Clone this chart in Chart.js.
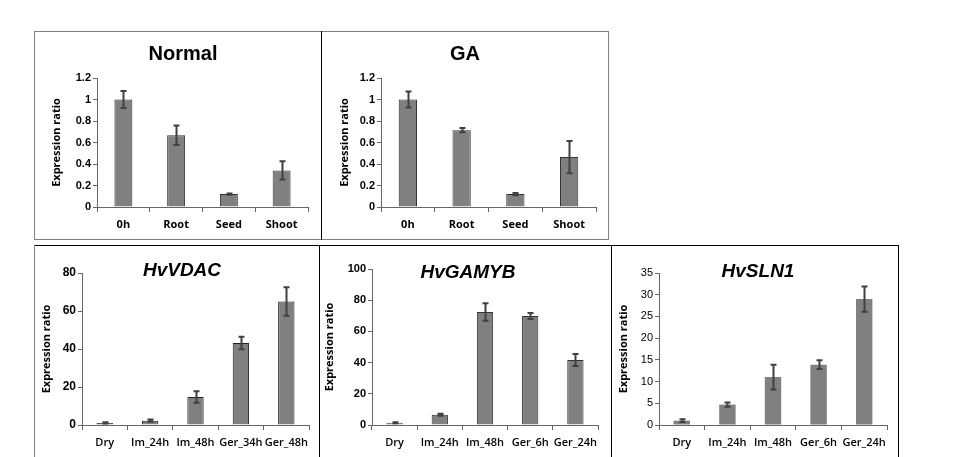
<!DOCTYPE html>
<html>
<head>
<meta charset="utf-8">
<script src="https://cdn.jsdelivr.net/npm/chart.js@4/dist/chart.umd.min.js"></script>
<style>
body { margin: 0; background: #fff; width: 961px; height: 457px; position: relative; overflow: hidden; font-family: "Liberation Sans", Arial, sans-serif; }
.panel { position: absolute; }
.line { position: absolute; }
.title { position: absolute; font-weight: bold; font-size: 20px; color: #000; transform: translate(-50%, -50%); white-space: nowrap; }
.gene { font-style: italic; font-size: 19px; }
</style>
</head>
<body>

<!-- frames -->
<div class="line" style="left:34px;top:31px;width:575px;height:1px;background:#808080"></div>
<div class="line" style="left:34px;top:239px;width:575px;height:1px;background:#808080"></div>
<div class="line" style="left:34px;top:31px;width:1px;height:209px;background:#808080"></div>
<div class="line" style="left:608px;top:31px;width:1px;height:209px;background:#808080"></div>
<div class="line" style="left:321px;top:31px;width:1px;height:209px;background:#000"></div>

<div class="line" style="left:34px;top:245px;width:865px;height:1px;background:#000"></div>
<div class="line" style="left:34px;top:245px;width:1px;height:212px;background:#808080"></div>
<div class="line" style="left:319px;top:245px;width:1px;height:212px;background:#000"></div>
<div class="line" style="left:611px;top:245px;width:1px;height:212px;background:#000"></div>
<div class="line" style="left:898px;top:245px;width:1px;height:212px;background:#000"></div>

<div class="panel" style="left:35px;top:32px;width:286px;height:207px"><canvas id="normal"></canvas></div>
<div class="panel" style="left:322px;top:32px;width:286px;height:207px"><canvas id="ga"></canvas></div>
<div class="panel" style="left:35px;top:246px;width:284px;height:211px"><canvas id="vdac"></canvas></div>
<div class="panel" style="left:320px;top:246px;width:291px;height:211px"><canvas id="gamyb"></canvas></div>
<div class="panel" style="left:612px;top:246px;width:286px;height:211px"><canvas id="sln"></canvas></div>

<div class="title" style="left:183px;top:53px">Normal</div>
<div class="title" style="left:465px;top:53px">GA</div>
<div class="title gene" style="left:182px;top:270px">HvVDAC</div>
<div class="title gene" style="left:468px;top:272px">HvGAMYB</div>
<div class="title gene" style="left:758px;top:271px">HvSLN1</div>

<script>
'use strict';

// top row: tissue samples
const tissueLabels = ['0h', 'Root', 'Seed', 'Shoot'];
const normalValues = [1.0, 0.667, 0.12, 0.34];
const normalErrors = [0.08, 0.09, 0.005, 0.085];
const gaValues = [1.0, 0.715, 0.12, 0.465];
const gaErrors = [0.075, 0.02, 0.01, 0.15];

// bottom row: time course
const vdacLabels = ['Dry', 'Im_24h', 'Im_48h', 'Ger_34h', 'Ger_48h'];
const vdacValues = [1.1, 2.3, 14.7, 43.2, 65.0];
const vdacErrors = [0.3, 0.6, 3.0, 3.3, 7.5];

const gamybLabels = ['Dry', 'Im_24h', 'Im_48h', 'Ger_6h', 'Ger_24h'];
const gamybValues = [1.5, 6.6, 72.4, 69.9, 41.7];
const gamybErrors = [0.3, 0.6, 5.6, 1.9, 3.8];

const slnLabels = ['Dry', 'Im_24h', 'Im_48h', 'Ger_6h', 'Ger_24h'];
const slnValues = [1.0, 4.7, 11.05, 13.9, 29.0];
const slnErrors = [0.3, 0.5, 2.85, 1.0, 2.9];


// draws the +/- error whiskers on top of each bar
const errorBars = {
    id: 'errorBars',
    afterDatasetsDraw(chart, args, opts) {
        const ctx = chart.ctx;
        const yScale = chart.scales.y;
        const meta = chart.getDatasetMeta(0);
        const values = chart.data.datasets[0].data;
        ctx.save();
        ctx.strokeStyle = opts.color;
        ctx.lineWidth = opts.width;
        meta.data.forEach((bar, i) => {
            const x = Math.round(bar.x) + 0.5;
            const yTop = yScale.getPixelForValue(values[i] + opts.errors[i]);
            const yBot = yScale.getPixelForValue(values[i] - opts.errors[i]);
            ctx.beginPath();
            ctx.moveTo(x, yTop);
            ctx.lineTo(x, yBot);
            ctx.moveTo(x - opts.cap, yTop);
            ctx.lineTo(x + opts.cap, yTop);
            ctx.moveTo(x - opts.cap, yBot);
            ctx.lineTo(x + opts.cap, yBot);
            ctx.stroke();
        });
        ctx.restore();
    }
};

function drawBars(id, labels, values, errors, opt) {
    const ctx = document.getElementById(id);
    return new Chart(ctx, {
        type: 'bar',
        data: {
            labels: labels,
            datasets: [{
                data: values,
                backgroundColor: '#808080',
                borderColor: opt.border,
                borderWidth: opt.borderWidth,
                barPercentage: opt.bar,
                categoryPercentage: 1
            }]
        },
        options: {
            responsive: true,
            maintainAspectRatio: false,
            animation: false,
            layout: {
                padding: {left: opt.padLeft, top: opt.padTop, right: opt.padRight, bottom: 0}
            },
            scales: {
                x: {
                    grid: {
                        offset: true,
                        drawOnChartArea: false,
                        tickLength: 5,
                        color: '#666'
                    },
                    border: {color: '#666'},
                    ticks: {
                        color: '#000',
                        padding: 6,
                        maxRotation: 0,
                        autoSkip: false,
                        font: opt.xFont
                    },
                    afterFit: s => { s.height = opt.xHeight; }
                },
                y: {
                    min: 0,
                    max: opt.max,
                    ticks: {
                        stepSize: opt.step,
                        color: '#000',
                        padding: 2,
                        font: opt.yFont,
                        callback: value => String(+value.toFixed(2))
                    },
                    grid: {
                        drawOnChartArea: false,
                        tickLength: 4,
                        color: '#666'
                    },
                    border: {color: '#666'},
                    title: {
                        display: true,
                        text: 'Expression ratio',
                        color: '#000',
                        padding: 0,
                        font: {family: '"Open Sans", "Liberation Sans", sans-serif', size: 11, weight: 'bold', lineHeight: 1.2}
                    },
                    afterFit: s => { s.width = opt.yWidth; }
                }
            },
            plugins: {
                legend: {display: false},
                tooltip: {enabled: false},
                errorBars: {errors: errors, color: '#404040', width: 2, cap: 3}
            }
        },
        plugins: [errorBars]
    });
}

const boldNum = {family: '"Liberation Sans", Arial, sans-serif', size: 11, weight: 'bold'};
const boldCat = {family: '"Open Sans", "Liberation Sans", sans-serif', size: 11, weight: 'bold'};
const plainCat = {family: '"Open Sans", "Liberation Sans", sans-serif', size: 11, weight: '600'};

drawBars('normal', tissueLabels, normalValues, normalErrors, {
    max: 1.2, step: 0.2, padLeft: 15, padTop: 46, padRight: 13,
    yWidth: 47, xHeight: 32, bar: 0.34, border: '#333', borderWidth: 1,
    yFont: boldNum, xFont: boldCat
});

drawBars('ga', tissueLabels, gaValues, gaErrors, {
    max: 1.2, step: 0.2, padLeft: 16, padTop: 46, padRight: 12,
    yWidth: 43, xHeight: 32, bar: 0.34, border: '#333', borderWidth: 1,
    yFont: boldNum, xFont: boldCat
});

drawBars('vdac', vdacLabels, vdacValues, vdacErrors, {
    max: 80, step: 20, padLeft: 5, padTop: 27, padRight: 10,
    yWidth: 42, xHeight: 32, bar: 0.36, border: '#222', borderWidth: 1,
    yFont: {family: '"Liberation Sans", Arial, sans-serif', size: 12, weight: 'bold'}, xFont: plainCat
});

drawBars('gamyb', gamybLabels, gamybValues, gamybErrors, {
    max: 100, step: 20, padLeft: 3, padTop: 23, padRight: 13,
    yWidth: 49, xHeight: 32, bar: 0.36, border: '#333', borderWidth: 1,
    yFont: boldNum, xFont: plainCat
});

drawBars('sln', slnLabels, slnValues, slnErrors, {
    max: 35, step: 5, padLeft: 5, padTop: 27, padRight: 11,
    yWidth: 42, xHeight: 32, bar: 0.36, border: '#808080', borderWidth: 0,
    yFont: {family: '"Liberation Sans", Arial, sans-serif', size: 11}, xFont: plainCat
});
</script>
</body>
</html>
